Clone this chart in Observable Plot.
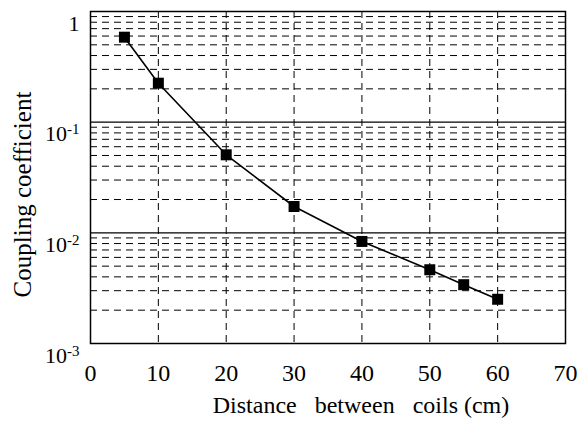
<!DOCTYPE html>
<html><head><meta charset="utf-8">
<script src="https://cdn.jsdelivr.net/npm/d3@7"></script>
<script src="https://cdn.jsdelivr.net/npm/@observablehq/plot@0.6"></script>
<style>body{margin:0;background:#fff}</style>
</head><body><div id="chart"></div>
<script>
const distance = [5, 10, 20, 30, 40, 50, 55, 60];
const coupling = [0.586, 0.225, 0.0507, 0.0173, 0.00836, 0.00464, 0.0034, 0.00251];
const xTicks = [0, 10, 20, 30, 40, 50, 60, 70];
const yTicks = [1, 0.1, 0.01, 0.001];
const yTickLabels = ["1", "10^-1", "10^-2", "10^-3"];
const xGrid = [10, 20, 30, 40, 50, 60];
const yDecades = [0.1, 0.01];
const xTitle = "Distance\u00a0\u00a0\u00a0between\u00a0\u00a0\u00a0coils (cm)";
const yTitle = "Coupling coefficient";

const data = distance.map((d, i) => ({distance: d, coupling: coupling[i]}));
const yMinor = d3.scaleLog().domain([0.001, 1]).ticks()
  .filter(v => !yTicks.some(t => Math.abs(t - v) / t < 1e-9));

const chart = Plot.plot({
  width: 579, height: 431,
  marginLeft: 90, marginRight: 14, marginTop: 11, marginBottom: 88,
  style: {fontFamily: "'Liberation Serif','Times New Roman',serif", fontSize: "22px", background: "#fff", color: "#000"},
  x: {domain: [0, 70]},
  y: {type: "log", domain: [0.001, 1]},
  marks: [
    Plot.ruleY(yMinor, {stroke: "#000", strokeWidth: 1, strokeDasharray: "7,5"}),
    Plot.ruleX(xGrid, {stroke: "#000", strokeWidth: 1, strokeDasharray: "7,5"}),
    Plot.ruleY(yDecades, {stroke: "#000", strokeWidth: 1.2}),
    Plot.frame({stroke: "#000", strokeWidth: 1.5}),
    Plot.line(data, {x: "distance", y: "coupling", stroke: "#000", strokeWidth: 1.6}),
    Plot.dot(data, {x: "distance", y: "coupling", symbol: "square", r: 6.2, fill: "#000", stroke: "none"}),
    Plot.axisX({ticks: xTicks, tickSize: 0, tickPadding: 20, fontSize: 24, label: null}),
    Plot.axisY({ticks: yTicks, tickSize: 0, tickPadding: 11, dy: 12, fontSize: 22, label: null,
      tickFormat: d => yTickLabels[yTicks.indexOf(d)]}),
    Plot.text([yTitle], {text: d => d, frameAnchor: "left", textAnchor: "middle", rotate: -90, dx: -68, dy: 17, fontSize: 25}),
    Plot.text([xTitle], {text: d => d, frameAnchor: "bottom", textAnchor: "middle", dx: 33, dy: 69, fontSize: 24})
  ]
});

chart.querySelectorAll('g[aria-label="y-axis tick label"] text').forEach(t => {
  const parts = t.textContent.split("^");
  if (parts.length === 2) {
    t.textContent = parts[0];
    const ts = document.createElementNS("http://www.w3.org/2000/svg", "tspan");
    ts.setAttribute("dy", "-0.45em");
    ts.setAttribute("font-size", "15px");
    ts.textContent = parts[1];
    t.appendChild(ts);
  }
});

document.getElementById("chart").appendChild(chart);
</script>
</body></html>
